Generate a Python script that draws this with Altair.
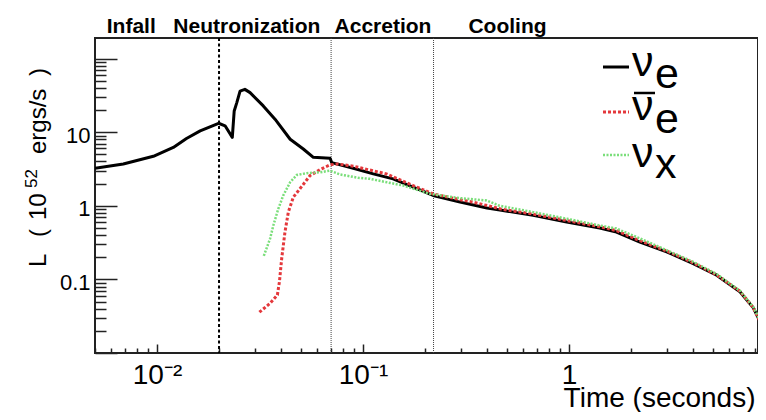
import altair as alt
import pandas as pd

# ---------------- data ----------------
# nu_e  (black, solid)
nue_t = [0.005, 0.00686, 0.0096, 0.0120, 0.0139, 0.0162, 0.0199, 0.0214, 0.0232, 0.0237,
         0.0244, 0.0253, 0.0267, 0.0283, 0.0328, 0.0374, 0.0443, 0.0513, 0.0574, 0.0692,
         0.0705, 0.0897, 0.1122, 0.140, 0.175, 0.219, 0.296, 0.40, 0.47, 0.67,
         0.975, 1.41, 1.70, 2.21, 2.98, 4.01, 5.21, 6.76, 7.85, 8.9]
nue_L = [3.23, 3.7, 4.7, 6.2, 8.2, 10.4, 13.2, 12.2, 8.5, 19.4,
         25.2, 36.1, 38.1, 34.4, 22.7, 15.0, 8.0, 5.9, 4.55, 4.41,
         3.85, 3.23, 2.71, 2.32, 1.79, 1.38, 1.12, 0.93, 0.87, 0.74,
         0.60, 0.50, 0.44, 0.32, 0.237, 0.164, 0.114, 0.068, 0.041, 0.020]

# anti nu_e  (red, dotted)
nuebar_t = [0.0314, 0.0354, 0.0384, 0.0393, 0.0403, 0.0418, 0.0434, 0.0459, 0.0494, 0.0553,
            0.0619, 0.0692, 0.075, 0.0897, 0.130, 0.175, 0.219, 0.30, 0.343, 0.47,
            0.67, 0.975, 1.41, 1.70, 2.21, 2.98, 4.01, 5.21, 6.76, 7.85, 8.9]
nuebar_L = [0.0358, 0.0474, 0.0614, 0.093, 0.192, 0.44, 0.82, 1.31, 1.70, 2.57,
            3.1, 3.6, 3.7, 3.45, 2.71, 1.88, 1.45, 1.2, 1.12, 0.9,
            0.77, 0.63, 0.52, 0.46, 0.335, 0.243, 0.168, 0.115, 0.069, 0.041, 0.020]

# nu_x  (green, dotted)
nux_t = [0.0330, 0.0354, 0.0367, 0.0388, 0.0410, 0.0443, 0.0477, 0.0533, 0.0619, 0.0692,
         0.0773, 0.0948, 0.108, 0.157, 0.211, 0.296, 0.398, 0.46, 0.671, 0.975,
         1.41, 1.70, 2.21, 2.98, 4.01, 5.21, 6.76, 7.85, 8.9]
nux_L = [0.209, 0.358, 0.54, 0.91, 1.38, 2.09, 2.62, 2.77, 2.85, 3.0,
         2.66, 2.4, 2.32, 1.88, 1.45, 1.27, 1.18, 1.0, 0.82, 0.667,
         0.54, 0.49, 0.36, 0.249, 0.173, 0.118, 0.070, 0.042, 0.021]

phase_names = ["Infall", "Neutronization", "Accretion", "Cooling"]
phase_label_t = [0.0075, 0.0273, 0.125, 0.503]
phase_bounds = [0.02, 0.07, 0.22]
phase_bound_style = ["bold", "fine", "fine"]

x_label_values = [0.01, 0.1, 1]
y_label_values = [0.1, 1, 10]
x_tick_values = [0.005, 0.006, 0.007, 0.008, 0.009,
                 0.01, 0.02, 0.03, 0.04, 0.05, 0.06, 0.07, 0.08, 0.09,
                 0.1, 0.2, 0.3, 0.4, 0.5, 0.6, 0.7, 0.8, 0.9,
                 1, 2, 3, 4, 5, 6, 7, 8]
y_tick_values = [0.01, 0.02, 0.03, 0.04, 0.05, 0.06, 0.07, 0.08, 0.09,
                 0.1, 0.2, 0.3, 0.4, 0.5, 0.6, 0.7, 0.8, 0.9,
                 1, 2, 3, 4, 5, 6, 7, 8, 9,
                 10, 20, 30, 40, 50, 60, 70, 80, 90, 100]

# y-axis title pieces
ytitle_parts = ["L", "(", "10", "52", "ergs/s", ")"]
legend_main = ["ν", "ν", "ν"]
legend_sub = ["e", "e", "x"]

# ---------------- styling ----------------
W, H = 663, 315
FONT = "Liberation Sans"
RED = "#e4383c"
GREEN = "#7ade7a"
xs = alt.Scale(type="log", domain=[0.005, 8.27], nice=False)
ys = alt.Scale(type="log", domain=[0.01, 190], nice=False)
MAJOR = "abs(log(datum.value)/LN10 - round(log(datum.value)/LN10)) < 0.001"

df_nue = pd.DataFrame({"t": nue_t, "L": nue_L})
df_nuebar = pd.DataFrame({"t": nuebar_t, "L": nuebar_L})
df_nux = pd.DataFrame({"t": nux_t, "L": nux_L})
df_phase = pd.DataFrame({"t": phase_label_t, "name": phase_names})
df_bounds = pd.DataFrame({"t": phase_bounds, "style": phase_bound_style})
one = pd.DataFrame({"a": [0]})

label_x_axis = alt.Axis(
    orient="bottom", values=x_label_values,
    labelExpr="datum.value < 0.05 ? '10⁻²' : (datum.value < 0.5 ? '10⁻¹' : '1')",
    ticks=False, tickSize=0, domain=False, grid=False,
    labelFont=FONT, labelFontSize=28, labelColor="black", labelPadding=8,
    labelFlush=False, labelOverlap=False,
    title="Time (seconds)", titleFont=FONT, titleFontSize=28, titleFontWeight="normal",
    titleColor="black", titleAlign="right", titleAnchor="end", titleX=660, titleY=53,
    titleBaseline="alphabetic")
label_y_axis = alt.Axis(
    orient="left", values=y_label_values,
    labelExpr="datum.value < 0.5 ? '0.1' : (datum.value < 5 ? '1' : '10')",
    ticks=False, tickSize=0, domain=False, grid=False,
    labelFont=FONT, labelFontSize=22, labelColor="black", labelPadding=5, labelOffset=3,
    labelFlush=False, labelOverlap=False, title=None)
tick_x_axis = alt.Axis(
    orient="top", offset=-H, values=x_tick_values, labels=False, domain=False, grid=False,
    tickSize={"condition": {"test": MAJOR, "value": 9}, "value": 5},
    tickColor="#222", tickWidth=1.5, title=None)
tick_y_axis = alt.Axis(
    orient="right", offset=-W, values=y_tick_values, labels=False, domain=False, grid=False,
    tickSize={"condition": {"test": MAJOR, "value": 22}, "value": 11},
    tickColor="#222", tickWidth=1.5, title=None)

bounds_bold = alt.Chart(df_bounds).transform_filter("datum.style == 'bold'").mark_rule(
    color="black", strokeWidth=2, strokeDash=[3, 2.5]).encode(
    x=alt.X("t:Q", scale=xs, axis=None))
bounds_fine = alt.Chart(df_bounds).transform_filter("datum.style == 'fine'").mark_rule(
    color="#444", strokeWidth=1, strokeDash=[1, 1]).encode(
    x=alt.X("t:Q", scale=xs, axis=None))

line_nue = alt.Chart(df_nue).mark_line(
    color="black", strokeWidth=3, strokeJoin="round", clip=True).encode(
    x=alt.X("t:Q", scale=xs, axis=label_x_axis),
    y=alt.Y("L:Q", scale=ys, axis=label_y_axis),
    order="t:Q")
line_nuebar = alt.Chart(df_nuebar).mark_line(
    color=RED, strokeWidth=3, strokeDash=[3, 2], clip=True).encode(
    x=alt.X("t:Q", scale=xs, axis=None),
    y=alt.Y("L:Q", scale=ys, axis=None),
    order="t:Q")
line_nux = alt.Chart(df_nux).mark_line(
    color=GREEN, strokeWidth=2.5, strokeDash=[2, 1.5], clip=True).encode(
    x=alt.X("t:Q", scale=xs, axis=tick_x_axis),
    y=alt.Y("L:Q", scale=ys, axis=tick_y_axis),
    order="t:Q")

phase_text = alt.Chart(df_phase).mark_text(
    font=FONT, fontSize=21, fontWeight="bold", color="black", baseline="alphabetic").encode(
    x=alt.X("t:Q", scale=xs, axis=None), y=alt.value(-5), text="name:N")

# rotated y-axis title, piece by piece (so that the exponent is a real superscript)
yt_start = [229, 199, 182, 150, 116, 38]
yt_size = [24, 24, 24, 17, 24, 24]
yt_base = [-49, -49, -49, -58, -49, -49]
ytitle = []
for i in range(len(ytitle_parts)):
    ytitle.append(alt.Chart(one).mark_text(
        text=ytitle_parts[i], font=FONT, fontSize=yt_size[i], color="black", angle=270,
        align="left", baseline="alphabetic").encode(
        x=alt.value(yt_base[i]), y=alt.value(yt_start[i])))

# manual legend (upper right)
leg = []
leg.append(alt.Chart(one).mark_rule(color="black", strokeWidth=3).encode(
    x=alt.value(508), x2=alt.value(534), y=alt.value(29)))
leg.append(alt.Chart(one).mark_rule(color=RED, strokeWidth=3, strokeDash=[3, 2]).encode(
    x=alt.value(508), x2=alt.value(534), y=alt.value(74)))
leg.append(alt.Chart(one).mark_rule(color=GREEN, strokeWidth=2.5, strokeDash=[2, 1.5]).encode(
    x=alt.value(508), x2=alt.value(534), y=alt.value(117)))
main_y = [38, 82, 129]
sub_y = [50, 95, 140]
for i in range(3):
    leg.append(alt.Chart(one).mark_text(
        text=legend_main[i], font=FONT, fontSize=43, color="black", align="left",
        baseline="alphabetic").encode(x=alt.value(537), y=alt.value(main_y[i])))
    leg.append(alt.Chart(one).mark_text(
        text=legend_sub[i], font=FONT, fontSize=43, color="black", align="left",
        baseline="alphabetic").encode(x=alt.value(560), y=alt.value(sub_y[i])))
leg.append(alt.Chart(one).mark_rule(color="black", strokeWidth=2.5).encode(
    x=alt.value(539), x2=alt.value(560), y=alt.value(55)))

chart = alt.layer(
    bounds_bold, bounds_fine, line_nue, line_nuebar, line_nux, phase_text, *ytitle, *leg
).resolve_axis(x="independent", y="independent").properties(
    width=W, height=H,
    autosize=alt.AutoSizeParams(type="none"),
    padding={"left": 87, "top": 30, "right": 0, "bottom": 59},
    background="white",
).configure_view(stroke="#222", strokeWidth=2)

chart.save("out.html", embed_options={"renderer": "svg", "actions": False})
